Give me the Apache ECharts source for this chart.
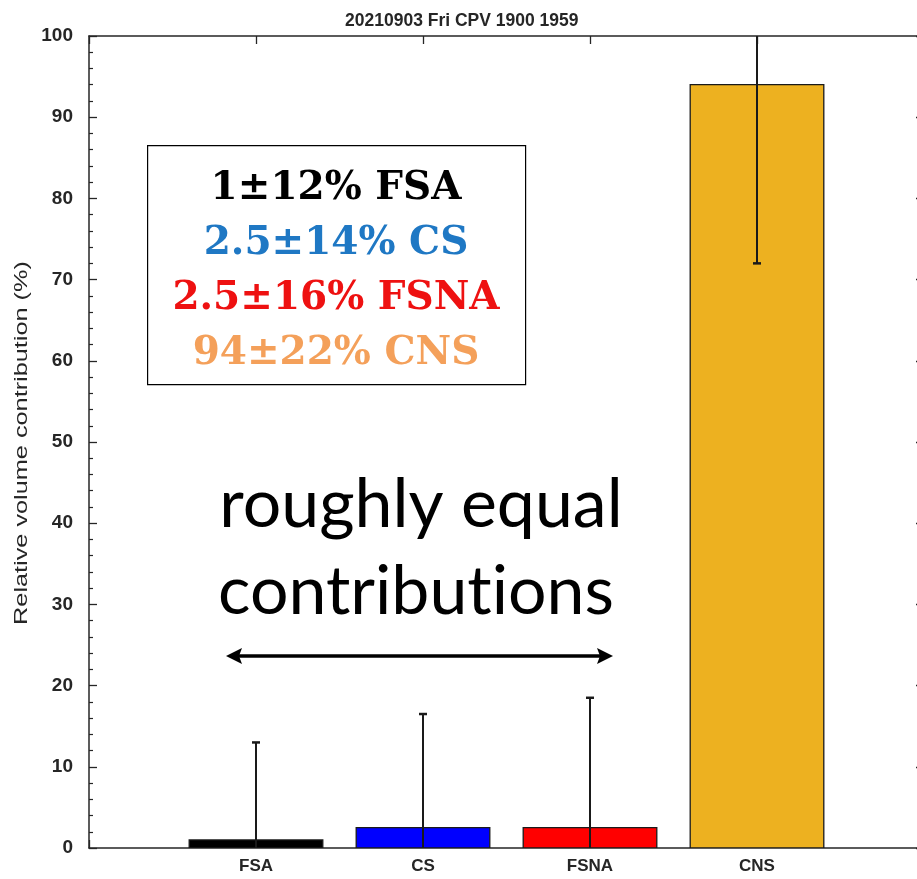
<!DOCTYPE html>
<html>
<head>
<meta charset="utf-8">
<style>
  html, body { margin: 0; padding: 0; background: #fff; }
  #chart { width: 917px; height: 879px; }
</style>
<script src="https://cdn.jsdelivr.net/npm/echarts@6/dist/echarts.min.js"></script>
</head>
<body>
<div id="chart"></div>
<script>
// Source categories and their relative volume contributions (%)
const categories = ['FSA', 'CS', 'FSNA', 'CNS'];
const contributions = [1, 2.5, 2.5, 94];
const uncertainties = [12, 14, 16, 22];
const barColors = ['#000000', '#0000FF', '#FF0000', '#EDB120'];
const yTicks = [0, 10, 20, 30, 40, 50, 60, 70, 80, 90, 100];

// Summary lines shown in the boxed note
const summaryLines = ['1±12% FSA', '2.5±14% CS', '2.5±16% FSNA', '94±22% CNS'];
const summaryColors = ['#000000', '#1F78C4', '#EE1111', '#F4A05A'];

const chart = echarts.init(document.getElementById('chart'), null, { renderer: 'canvas' });

const axisColor = '#262626';
const sans = 'Liberation Sans, Arial, sans-serif';

const barData = categories.map((c, i) => [i + 1, contributions[i], i]);
const errData = categories.map((c, i) => [i + 1, contributions[i] - uncertainties[i], contributions[i] + uncertainties[i]]);

function baseX(show) {
  return {
    type: 'value', min: 0, max: 5, interval: 1,
    axisLine: { show: true, onZero: false, lineStyle: { color: axisColor, width: 1.5 } },
    axisTick: { show: true, inside: true, length: 8, lineStyle: { color: axisColor, width: 1.3 } },
    splitLine: { show: false },
    axisLabel: show ? {
      margin: 10,
      color: axisColor, fontFamily: sans, fontWeight: 'bold', fontSize: 17,
      formatter: v => categories[v - 1] || ''
    } : { show: false }
  };
}
function baseY(show) {
  return {
    type: 'value', min: yTicks[0], max: yTicks[yTicks.length - 1], interval: yTicks[1] - yTicks[0],
    axisLine: { show: true, onZero: false, lineStyle: { color: axisColor, width: 1.5 } },
    axisTick: { show: true, inside: true, length: 8, lineStyle: { color: axisColor, width: 1.3 } },
    minorTick: { show: true, splitNumber: 5, length: 4, lineStyle: { color: axisColor, width: 1.2 } },
    splitLine: { show: false },
    axisLabel: show ? { margin: 16, color: axisColor, fontFamily: sans, fontWeight: 'bold', fontSize: 19 } : { show: false }
  };
}

const xBottom = baseX(true); xBottom.position = 'bottom';
const xTop = baseX(false); xTop.position = 'top';
const yLeft = baseY(true); yLeft.position = 'left';
const yRight = baseY(false); yRight.position = 'right';

chart.setOption({
  animation: false,
  backgroundColor: '#ffffff',
  title: {
    text: '20210903 Fri CPV 1900 1959',
    left: 340,
    top: 7,
    textStyle: { color: '#262626', fontFamily: sans, fontWeight: 'bold', fontSize: 17.5 }
  },
  grid: { left: 89, top: 36, width: 835, height: 812, containLabel: false, outerBoundsMode: 'none' },
  xAxis: [xBottom, xTop],
  yAxis: [yLeft, yRight],
  series: [
    {
      type: 'custom',
      xAxisIndex: 0, yAxisIndex: 0,
      clip: true,
      data: barData,
      renderItem: function (params, api) {
        const x = api.value(0), v = api.value(1), idx = api.value(2);
        const p0 = api.coord([x - 0.4, v]);
        const p1 = api.coord([x + 0.4, 0]);
        return {
          type: 'rect',
          shape: { x: p0[0], y: p0[1], width: p1[0] - p0[0], height: p1[1] - p0[1] },
          style: { fill: barColors[idx], stroke: '#1a1a1a', lineWidth: 1.3 }
        };
      },
      z: 2
    },
    {
      type: 'custom',
      xAxisIndex: 0, yAxisIndex: 0,
      clip: true,
      data: errData,
      renderItem: function (params, api) {
        const x = api.value(0);
        const lo = api.coord([x, api.value(1)]);
        const hi = api.coord([x, api.value(2)]);
        const cap = 4;
        const st = { stroke: '#1a1a1a', lineWidth: 2 };
        const capSt = { stroke: '#1a1a1a', lineWidth: 2.5 };
        return {
          type: 'group',
          children: [
            { type: 'line', shape: { x1: lo[0], y1: lo[1], x2: hi[0], y2: hi[1] }, style: st },
            { type: 'line', shape: { x1: lo[0] - cap, y1: lo[1], x2: lo[0] + cap, y2: lo[1] }, style: capSt },
            { type: 'line', shape: { x1: hi[0] - cap, y1: hi[1], x2: hi[0] + cap, y2: hi[1] }, style: capSt }
          ]
        };
      },
      z: 3
    }
  ],
  graphic: [
    // Y-axis title, stretched along its length
    {
      type: 'text', z: 11,
      x: 22, y: 443,
      rotation: Math.PI / 2,
      scaleX: 1.33,
      style: {
        text: 'Relative volume contribution (%)', fill: '#262626',
        font: '19px "Liberation Sans", Arial, sans-serif',
        textAlign: 'center', textVerticalAlign: 'middle'
      }
    },
    // Boxed summary note
    {
      type: 'rect', left: 147, top: 145, z: 10,
      shape: { width: 378, height: 239 },
      style: { fill: '#ffffff', stroke: '#000000', lineWidth: 1.2 }
    },
    ...summaryLines.map((t, i) => ({
      type: 'text', z: 11,
      x: 336, y: 189 + i * 55,
      style: {
        text: t, fill: summaryColors[i],
        font: 'bold 39px "DejaVu Serif", "Liberation Serif", serif',
        textAlign: 'center', textVerticalAlign: 'middle'
      }
    })),
    // Annotation text
    {
      type: 'text', z: 11, x: 421, y: 539,
      style: {
        text: 'roughly equal', fill: '#000000',
        font: '68px Lato, "Open Sans", sans-serif',
        textAlign: 'center', textVerticalAlign: 'bottom'
      }
    },
    {
      type: 'text', z: 11, x: 416, y: 626,
      style: {
        text: 'contribut\u200Cions', fill: '#000000',
        font: '68px Lato, "Open Sans", sans-serif',
        textAlign: 'center', textVerticalAlign: 'bottom'
      }
    },
    // Double-headed arrow under the annotation
    {
      type: 'line', z: 11,
      shape: { x1: 236, y1: 656, x2: 603, y2: 656 },
      style: { stroke: '#000000', lineWidth: 3.5 }
    },
    {
      type: 'polygon', z: 11,
      shape: { points: [[226, 656], [242, 648], [239, 656], [242, 664]] },
      style: { fill: '#000000' }
    },
    {
      type: 'polygon', z: 11,
      shape: { points: [[613, 656], [597, 648], [600, 656], [597, 664]] },
      style: { fill: '#000000' }
    }
  ]
});
</script>
</body>
</html>
